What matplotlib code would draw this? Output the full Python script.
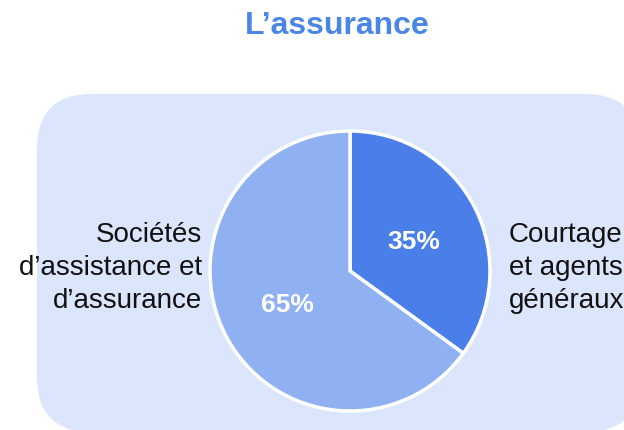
import matplotlib
matplotlib.use("Agg")
import matplotlib.pyplot as plt
from matplotlib.patches import FancyBboxPatch

title = "L\u2019assurance"
categories = ["Courtage\net agents\ngénéraux", "Sociétés\nd\u2019assistance et\nd\u2019assurance"]
values = [35, 65]
pct_labels = ["35%", "65%"]
colors = ["#4a7fea", "#8fb1f2"]

W, H = 624, 431
fig = plt.figure(figsize=(W / 100, H / 100), dpi=100)
ax = fig.add_axes([0, 0, 1, 1])
ax.set_xlim(0, W)
ax.set_ylim(0, H)
ax.set_aspect("equal")
ax.axis("off")

def Y(y):
    return H - y

bg = FancyBboxPatch((37, Y(433)), 603, 338,
                    boxstyle="round,pad=0,rounding_size=55",
                    facecolor="#dbe5fb", edgecolor="none", zorder=0)
ax.add_patch(bg)

cx, cy, r = 350, Y(272), 140
wedges, _ = ax.pie(values, colors=colors, startangle=90, counterclock=False,
                   center=(cx, cy), radius=r, frame=True,
                   wedgeprops=dict(edgecolor="white", linewidth=2.5))
ax.set_xlim(0, W)
ax.set_ylim(0, H)
ax.axis("off")

font = "Liberation Sans"
ax.text(337, Y(34), title, ha="center", va="baseline", fontsize=23,
        fontweight="bold", color="#4a86e8", family=font)

ax.text(414, Y(242), pct_labels[0], ha="center", va="center", fontsize=19,
        fontweight="bold", color="white", family=font)
ax.text(287, Y(305), pct_labels[1], ha="center", va="center", fontsize=19,
        fontweight="bold", color="white", family=font)

ax.text(509, Y(268), categories[0], ha="left", va="center", fontsize=20,
        color="#111111", family=font, linespacing=1.36, multialignment="left")
ax.text(202, Y(268), categories[1], ha="right", va="center", fontsize=20,
        color="#111111", family=font, linespacing=1.36, multialignment="right")

fig.savefig("out.png", dpi=100)
